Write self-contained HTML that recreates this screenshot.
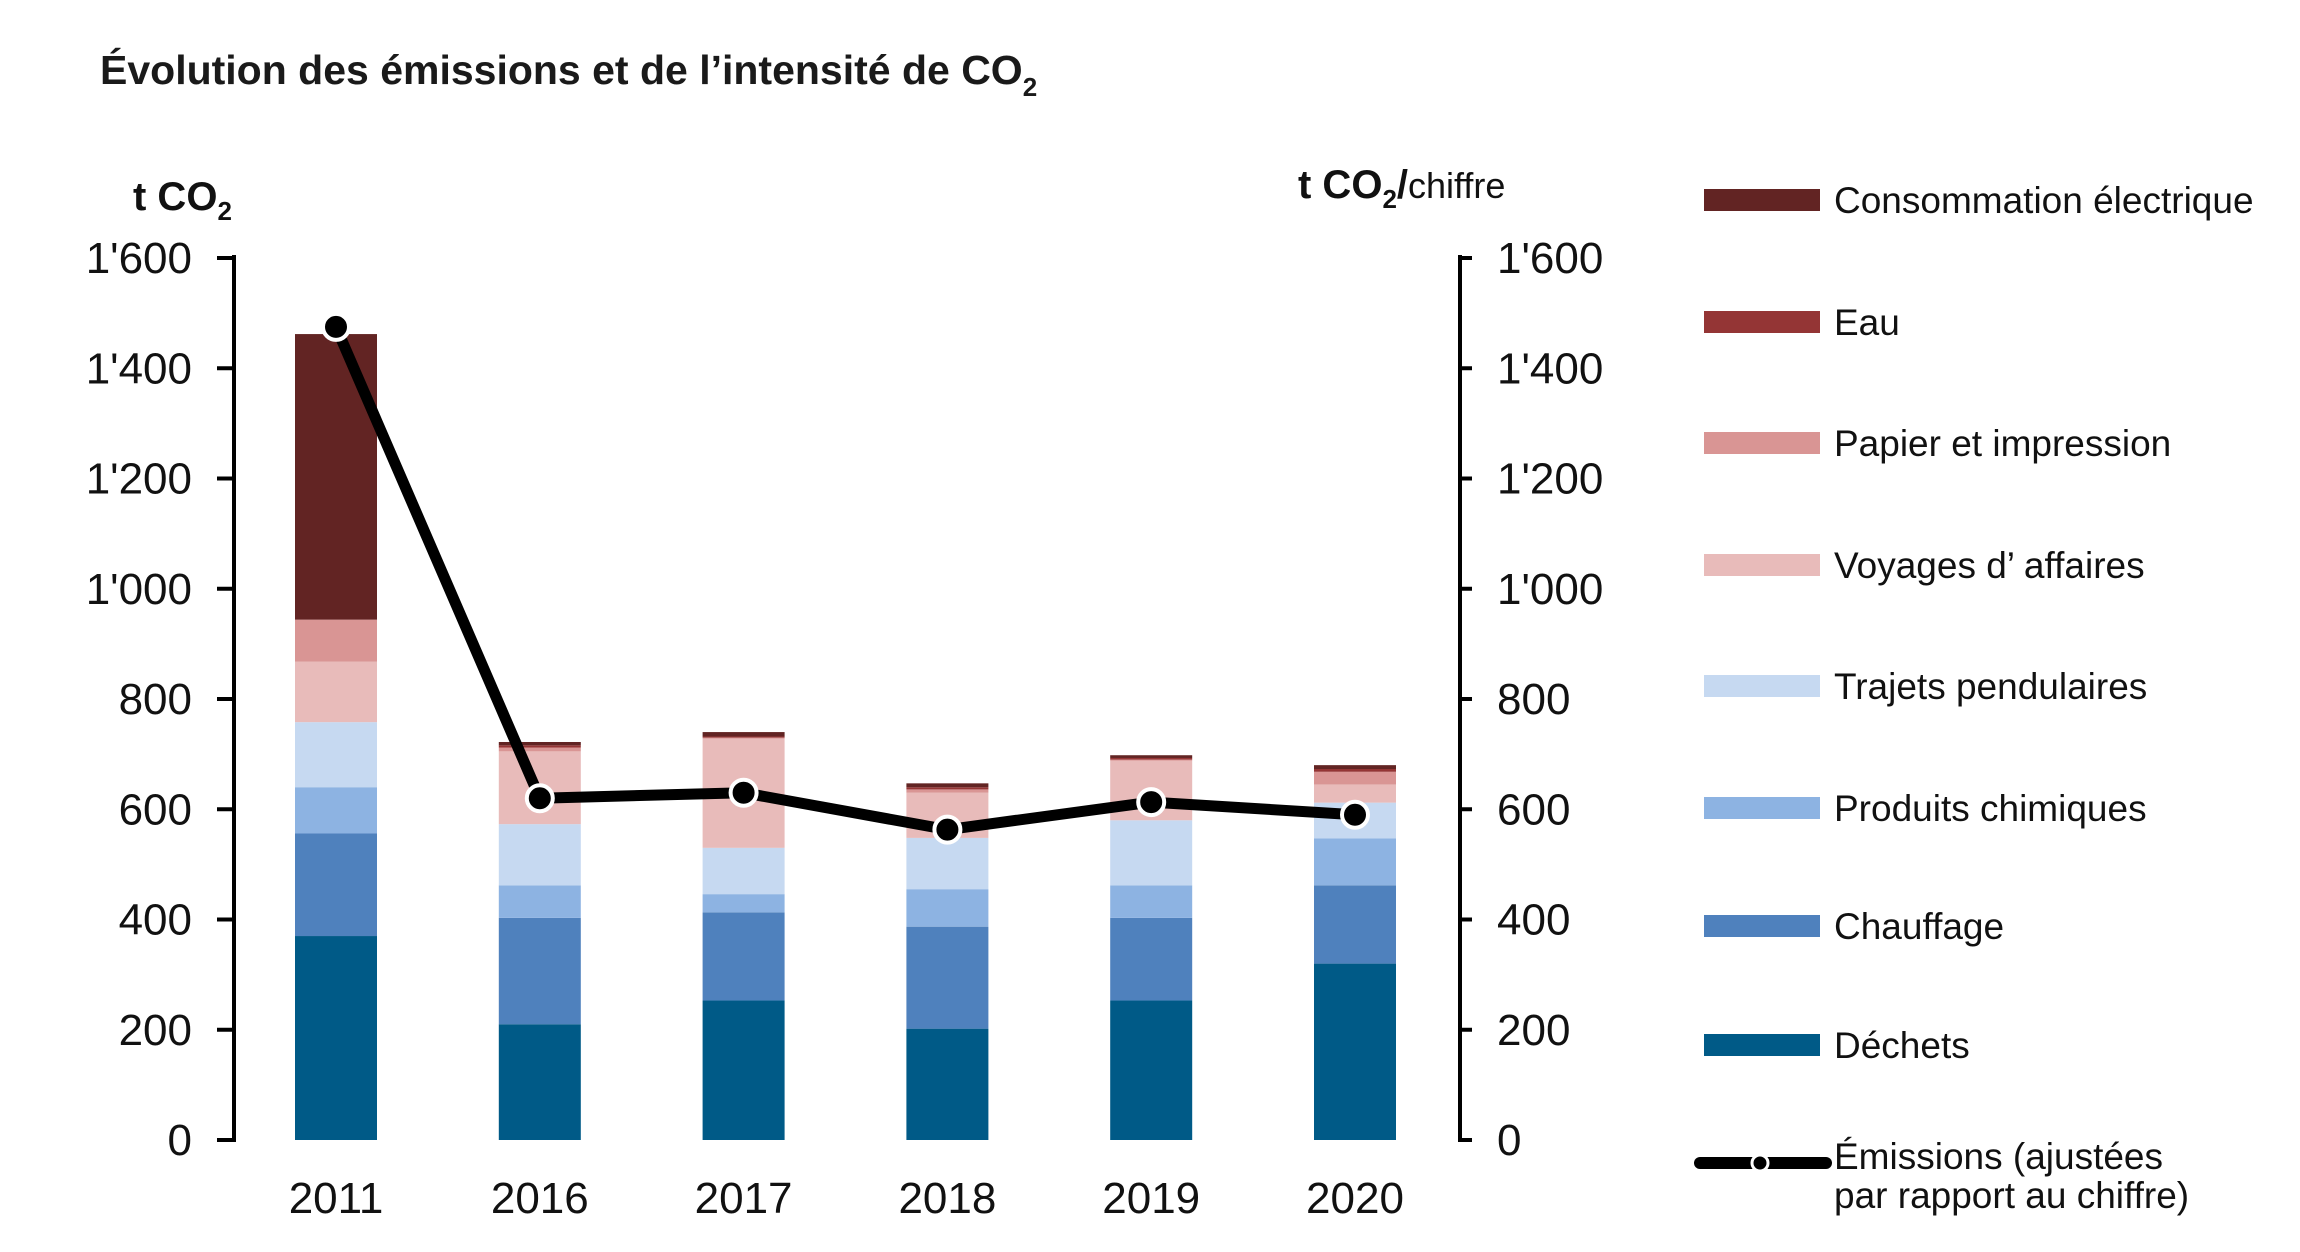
<!DOCTYPE html>
<html><head><meta charset="utf-8"><style>
body{margin:0;background:#fff;}
svg{display:block;font-family:"Liberation Sans",Arial,sans-serif;}
</style></head><body>
<svg id="c" width="2300" height="1252" viewBox="0 0 2300 1252">
<text x="100" y="84" font-size="41" font-weight="bold" fill="#1a1a1a">Évolution des émissions et de l’intensité de CO<tspan font-size="26" dy="12">2</tspan></text>
<text x="133" y="210" font-size="40" font-weight="bold" fill="#111">t CO<tspan font-size="26" dy="10">2</tspan></text>
<text x="1298" y="198" font-size="40" font-weight="bold" fill="#111">t CO<tspan font-size="26" dy="10">2</tspan><tspan dy="-10">/</tspan><tspan font-weight="normal" font-size="36">chiffre</tspan></text>
<g id="axes"></g><g id="bars"></g><g id="line"></g><g id="legend"></g>
</svg>
<script>
const years=["2011","2016","2017","2018","2019","2020"];
const dechets=[370,210,253,202,253,320];
const chauffage=[186,193,160,185,150,142];
const chimiques=[84,59,33,68,59,85];
const trajets=[118,111,84,93,118,65];
const voyages=[110,132,198,82,108,33];
const papier=[76,7,2,6,2,23];
const eau=[0,4,2,4,3,5];
const consommation=[518,6,8,7,5,7];
const emissions=[1475,620,630,563,613,590];
const ticks=[0,200,400,600,800,1000,1200,1400,1600];
const tickLabels=["0","200","400","600","800","1'000","1'200","1'400","1'600"];
const seriesNames=["Déchets","Chauffage","Produits chimiques","Trajets pendulaires","Voyages d’ affaires","Papier et impression","Eau","Consommation électrique"];
const seriesData=[dechets,chauffage,chimiques,trajets,voyages,papier,eau,consommation];
const colors=["#005a87","#4f81bd","#8db3e2","#c6d9f1","#e8bbba","#d99594","#943535","#622423"];
const NS="http://www.w3.org/2000/svg";
const y0=1140,y1=258,xL=234,xR=1460;
const yS=v=>y0-(v/1600)*(y0-y1);
const xS=i=>336+i*203.8;
function mk(t,a,p){const e=document.createElementNS(NS,t);for(const k in a)e.setAttribute(k,a[k]);p.appendChild(e);return e;}
const ax=document.getElementById('axes');
let e=mk('line',{x1:xL,y1:y1-3,x2:xL,y2:y0+2,stroke:'#000','stroke-width':4},ax);


e=mk('line',{x1:xR,y1:y1-3,x2:xR,y2:y0+2,stroke:'#000','stroke-width':4},ax);


ticks.forEach((t,i)=>{
 mk('line',{x1:xL-17,x2:xL,y1:yS(t),y2:yS(t),stroke:'#000','stroke-width':4},ax);
 mk('line',{x1:xR,x2:xR+12,y1:yS(t),y2:yS(t),stroke:'#000','stroke-width':4},ax);
 let l=mk('text',{x:192,y:yS(t)+15,'font-size':44,'text-anchor':'end',fill:'#111'},ax);l.textContent=tickLabels[i];
 
 
 let r=mk('text',{x:1497,y:yS(t)+15,'font-size':44,fill:'#111'},ax);r.textContent=tickLabels[i];
 
 
});
const bg=document.getElementById('bars');
years.forEach((yr,i)=>{
 let acc=0;
 seriesData.forEach((s,k)=>{
  const v=s[i];if(v<=0)return;
  const r=mk('rect',{x:xS(i)-41,y:yS(acc+v),width:82,height:yS(acc)-yS(acc+v),fill:colors[k]},bg);
  
  
  acc+=v;
 });
 const t=mk('text',{x:xS(i),y:1213,'font-size':44,'text-anchor':'middle',fill:'#111'},bg);t.textContent=yr;
 
 
});
const lg=document.getElementById('line');
const pl=mk('polyline',{points:emissions.map((v,i)=>xS(i)+','+yS(v)).join(' '),fill:'none',stroke:'#000','stroke-width':11,'stroke-linejoin':'round'},lg);


emissions.forEach((v,i)=>{
 const c=mk('circle',{cx:xS(i),cy:yS(v),r:13,fill:'#000',stroke:'#fff','stroke-width':4},lg);
 
 
});
const L=document.getElementById('legend');
const legRows=[1045,926,808,686,565,443,322,200];
seriesNames.forEach((n,k)=>{
 const g=mk('g',{},L);
 
 
 mk('rect',{x:1704,y:legRows[k]-11,width:116,height:22,fill:colors[k]},g);
 const t=mk('text',{x:1834,y:legRows[k]+13,'font-size':37,fill:'#111'},g);t.textContent=n;
});
const g=mk('g',{},L);


mk('line',{x1:1700,x2:1826,y1:1163,y2:1163,stroke:'#000','stroke-width':12,'stroke-linecap':'round'},g);
mk('circle',{cx:1760,cy:1163,r:8,fill:'#000',stroke:'#fff','stroke-width':3},g);
let t1=mk('text',{x:1834,y:1169,'font-size':37,fill:'#111'},g);t1.textContent="Émissions (ajustées";
let t2=mk('text',{x:1834,y:1208,'font-size':37,fill:'#111'},g);t2.textContent="par rapport au chiffre)";
</script>
</body></html>
